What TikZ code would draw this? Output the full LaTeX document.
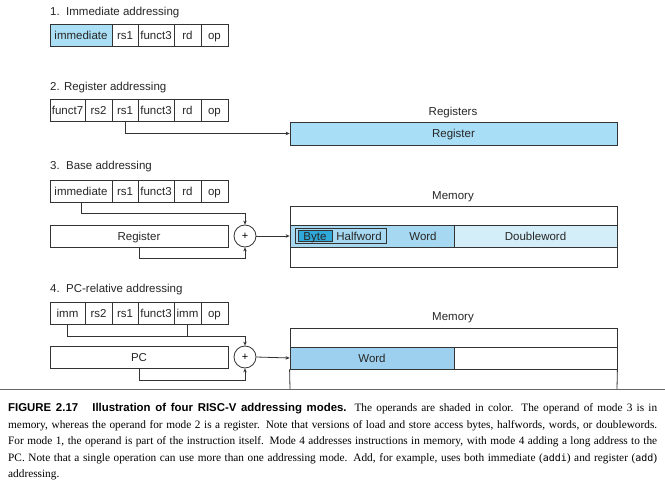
\documentclass[tikz,border=0pt]{standalone}
\usepackage{fontspec}
\setmainfont{Liberation Serif}
\setsansfont{Liberation Sans}
\setmonofont{DejaVu Sans Mono}
\usetikzlibrary{arrows.meta}
\definecolor{lin}{HTML}{333333}
\definecolor{immblue}{HTML}{ABDFF6}
\definecolor{regblue}{HTML}{A9DEF7}
\definecolor{wordthree}{HTML}{A6D9F1}
\definecolor{dword}{HTML}{D4EEF9}
\definecolor{bytec}{HTML}{2FA8DA}
\definecolor{wordfour}{HTML}{9DD0EE}
\newcommand{\dfont}{\sffamily\fontsize{11.5}{13}\selectfont}
\newcommand{\capfont}{\rmfamily\fontsize{11.3}{13}\selectfont}
\tikzset{
  field/.style={draw=lin, line width=0.8pt, minimum height=22pt, inner sep=0pt, font=\dfont, text=black!85, text height=9.6pt, text depth=1pt},
  bigbox/.style={draw=lin, line width=0.8pt, minimum height=22pt, inner sep=0pt, font=\dfont, text=black!85, text height=9.6pt, text depth=1pt},
  title/.style={anchor=west, inner sep=0pt, font=\dfont, text=black!85},
  lab/.style={inner sep=0pt, font=\dfont, text=black!85, text height=9.6pt, text depth=1pt},
  plus/.style={draw=lin, line width=0.8pt, circle, minimum size=22pt, inner sep=0pt, font=\sffamily\fontsize{11}{12}\selectfont},
  conn/.style={draw=lin, line width=0.8pt},
  arr/.style={conn, -{Stealth[length=4pt,width=3.5pt]}},
  capline/.style={anchor=base west, inner sep=0pt, font=\capfont}
}
\begin{document}
\begin{tikzpicture}[x=1pt,y=-1pt]
\useasboundingbox (0,0) rectangle (665,481);
% ---------- 1. Immediate ----------
\node[title] (t1) at (50,13) {1.\ \ Immediate addressing};
\node[field, fill=immblue, minimum width=62pt] (a1) at (81,35) {immediate};
\node[field, minimum width=26pt] (a2) at (125,35) {rs1};
\node[field, minimum width=36pt] (a3) at (156,35) {funct3};
\node[field, minimum width=27pt] (a4) at (187.5,35) {rd};
\node[field, minimum width=27pt] (a5) at (214.5,35) {op};
% ---------- 2. Register ----------
\node[title] (t2) at (50,88) {2. Register addressing};
\node[field, minimum width=35pt] (b1) at (67.5,110) {funct7};
\node[field, minimum width=27pt] (b2) at (98.5,110) {rs2};
\node[field, minimum width=26pt] (b3) at (125,110) {rs1};
\node[field, minimum width=36pt] (b4) at (156,110) {funct3};
\node[field, minimum width=27pt] (b5) at (187.5,110) {rd};
\node[field, minimum width=27pt] (b6) at (214.5,110) {op};
\node[lab] (regslab) at (453,111) {Registers};
\node[bigbox, fill=regblue, minimum width=327pt, minimum height=23pt] (reg2) at (453.5,133.5) {Register};
\draw[arr] (b3.south) |- (reg2.west);
% ---------- 3. Base ----------
\node[title] (t3) at (50,167) {3.\ \ Base addressing};
\node[field, minimum width=62pt] (c1) at (81,191) {immediate};
\node[field, minimum width=26pt] (c2) at (125,191) {rs1};
\node[field, minimum width=36pt] (c3) at (156,191) {funct3};
\node[field, minimum width=27pt] (c4) at (187.5,191) {rd};
\node[field, minimum width=27pt] (c5) at (214.5,191) {op};
\node[bigbox, minimum width=178pt] (reg3) at (139,236) {Register};
\node[plus] (plus3) at (245,236) {+};
\node[lab] (memlab3) at (453,195) {Memory};
\node[bigbox, minimum width=327pt, minimum height=19pt] (mem3top) at (453.5,215.5) {};
\node[bigbox, fill=wordthree, minimum width=164pt] (word3) at (372,236) {};
\node[bigbox, fill=dword, minimum width=163pt] (dw3) at (535.5,236) {Doubleword};
\node[bigbox, minimum width=327pt, minimum height=20pt] (mem3bot) at (453.5,257) {};
\node[draw=lin, line width=0.8pt, minimum width=91pt, minimum height=15pt, inner sep=0pt] (half3) at (340.5,236) {};
\node[draw=lin, line width=0.8pt, fill=bytec, minimum width=34pt, minimum height=11pt, inner sep=0pt] (byte3) at (315,236) {};
\node[lab] (bytetxt) at (315,236) {Byte};
\node[lab] (halftxt) at (359,236) {Halfword};
\node[lab] (wordtxt3) at (423,236) {Word};
\draw[arr] (c1.south) -- ++(0,11) -| (plus3.north);
\draw[arr] (reg3.south) -- ++(0,11) -| (plus3.south);
\draw[arr] (plus3.east) -- (word3.west);
% ---------- 4. PC-relative ----------
\node[title] (t4) at (50,290) {4.\ \ PC-relative addressing};
\node[field, minimum width=35pt] (d1) at (67.5,313) {imm};
\node[field, minimum width=27pt] (d2) at (98.5,313) {rs2};
\node[field, minimum width=26pt] (d3) at (125,313) {rs1};
\node[field, minimum width=36pt] (d4) at (156,313) {funct3};
\node[field, minimum width=27pt] (d5) at (187.5,313) {imm};
\node[field, minimum width=27pt] (d6) at (214.5,313) {op};
\node[bigbox, minimum width=178pt] (pc) at (139,357) {PC};
\node[plus] (plus4) at (245,357) {+};
\node[lab] (memlab4) at (453,316) {Memory};
\node[bigbox, minimum width=327pt, minimum height=19pt] (mem4top) at (453.5,337.5) {};
\node[bigbox, fill=wordfour, minimum width=164pt] (word4) at (372,358) {Word};
\node[bigbox, minimum width=163pt] (rest4) at (535.5,358) {};
\coordinate (m4bl) at (290,389);
\coordinate (m4br) at (617,389);
\draw[conn] (word4.south west) -- (m4bl);
\draw[conn] (rest4.south east) -- (m4br);
\draw[arr] (d1.south) -- ++(0,12) -| (plus4.north);
\draw[conn] (d5.south) -- ++(0,12);
\draw[arr] (pc.south) -- ++(0,12) -| (plus4.south);
\draw[arr] (plus4.east) -- (word4.west);
% ---------- rule and caption ----------
\coordinate (rl) at (0,389);
\coordinate (rr) at (665,389);
\draw[draw=black!60, line width=0.6pt] (rl) -- (rr);
\node[capline] (cap1) at (8,412) {\makebox[649pt][s]{{\sffamily\bfseries\fontsize{11.4}{13}\selectfont FIGURE 2.17\ \ \ Illustration of four RISC-V addressing modes.} The operands are shaded in color. The operand of mode 3 is in}};
\node[capline] (cap2) at (8,428.5) {\makebox[649pt][s]{memory, whereas the operand for mode 2 is a register. Note that versions of load and store access bytes, halfwords, words, or doublewords.}};
\node[capline] (cap3) at (8,445) {\makebox[649pt][s]{For mode 1, the operand is part of the instruction itself. Mode 4 addresses instructions in memory, with mode 4 adding a long address to the}};
\node[capline] (cap4) at (8,461.5) {\makebox[649pt][s]{PC. Note that a single operation can use more than one addressing mode. Add, for example, uses both immediate ({\ttfamily\fontsize{10}{12}\selectfont addi}) and register ({\ttfamily\fontsize{10}{12}\selectfont add})}};
\node[capline] (cap5) at (8,478) {addressing.};
\end{tikzpicture}
\end{document}
